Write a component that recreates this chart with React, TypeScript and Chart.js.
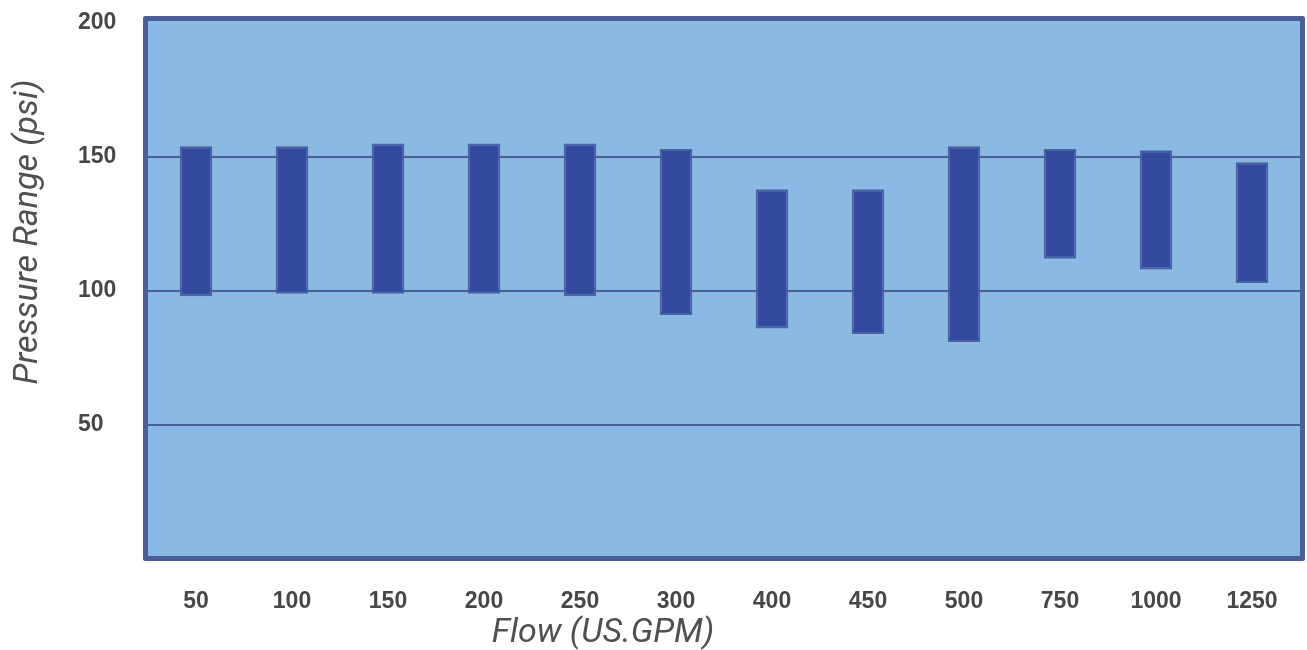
import { useEffect, useRef } from 'react';
import { Chart, registerables } from 'chart.js';

Chart.register(...registerables);

const flowLabels = ['50', '100', '150', '200', '250', '300', '400', '450', '500', '750', '1000', '1250'];
const pressureLow = [98, 99, 99, 99, 98, 91, 86, 84, 81, 112, 108, 103];
const pressureHigh = [154, 154, 155, 155, 155, 153, 138, 138, 154, 153, 152.5, 148];
const yTickValues = [0, 50, 100, 150, 200];
const xTitle = 'Flow (US.GPM)';
const yTitle = 'Pressure Range (psi)';

const frame = {
  id: 'frame',
  beforeDraw(chart: any) {
    const { ctx, chartArea: a } = chart;
    ctx.save();
    ctx.fillStyle = '#8ab9e3';
    ctx.fillRect(a.left, a.top - 2, a.right - a.left, a.bottom - a.top - 1);
    ctx.restore();
  },
  afterDraw(chart: any) {
    const { ctx, chartArea: a } = chart;
    ctx.save();
    ctx.strokeStyle = '#4a5e98';
    ctx.lineWidth = 5;
    ctx.lineJoin = 'round';
    ctx.strokeRect(a.left - 2.5, a.top - 4.5, a.right - a.left + 5, a.bottom - a.top + 4);
    ctx.fillStyle = '#505050';
    ctx.font = 'italic 34px Roboto';
    ctx.textAlign = 'center';
    ctx.textBaseline = 'middle';
    ctx.fillText(xTitle, a.left + 455, 633);
    ctx.translate(28, 232);
    ctx.rotate(-Math.PI / 2);
    ctx.fillText(yTitle, 0, 0);
    ctx.restore();
  },
};

export default function App() {
  const ref = useRef<HTMLCanvasElement>(null);
  useEffect(() => {
    document.body.style.margin = '0';
    const data = flowLabels.map((_, i) => [pressureLow[i], pressureHigh[i]]);
    const chart = new Chart(ref.current!, {
      type: 'bar',
      data: {
        labels: flowLabels,
        datasets: [
          {
            data: data as any,
            backgroundColor: '#33499e',
            borderColor: '#4b62a3',
            borderWidth: 2,
            borderSkipped: false,
            barPercentage: 0.34,
            categoryPercentage: 1,
          },
        ],
      },
      options: {
        animation: false,
        responsive: true,
        maintainAspectRatio: false,
        layout: { padding: { left: 78, top: 23, right: 7, bottom: 0 } },
        plugins: { legend: { display: false }, tooltip: { enabled: false } },
        scales: {
          x: {
            grid: { display: false },
            border: { display: false },
            ticks: {
              autoSkip: false,
              maxRotation: 0,
              padding: 21,
              color: '#474747',
              font: { family: 'Liberation Sans', weight: 'bold', size: 23 },
            },
            afterFit(scale: any) {
              scale.height = 91;
            },
          },
          y: {
            min: 0,
            max: 200,
            afterBuildTicks(scale: any) {
              scale.ticks = yTickValues.map((v) => ({ value: v }));
            },
            grid: {
              drawTicks: false,
              lineWidth: 2,
              color: (c: any) =>
                c.tick && (c.tick.value === 0 || c.tick.value === 200) ? 'rgba(0,0,0,0)' : '#4a5e98',
            },
            border: { display: false },
            ticks: {
              crossAlign: 'far',
              color: '#474747',
              font: { family: 'Liberation Sans', weight: 'bold', size: 23 },
              callback: (v: any) => (v === 0 ? '' : String(v)),
            },
            afterFit(scale: any) {
              scale.width = 70;
            },
          },
        },
      },
      plugins: [frame],
    });
    return () => chart.destroy();
  }, []);
  return (
    <div style={{ width: 1307, height: 650, position: 'relative' }}>
      <canvas ref={ref} />
    </div>
  );
}
